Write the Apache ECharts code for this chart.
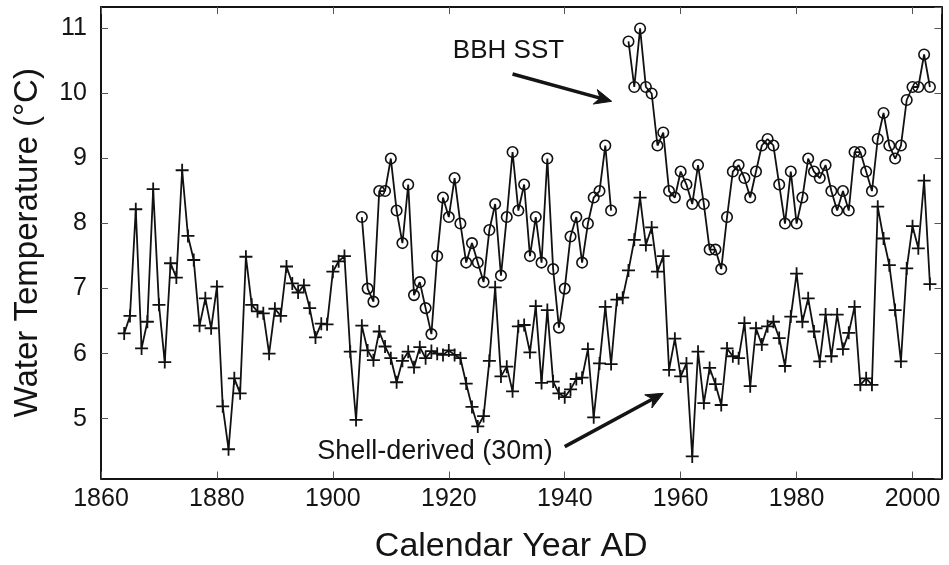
<!DOCTYPE html>
<html><head><meta charset="utf-8">
<script src="https://cdn.jsdelivr.net/npm/echarts@6/dist/echarts.min.js"></script>
<style>html,body{margin:0;padding:0;background:#fff}#c{width:949px;height:565px}</style>
</head><body><div id="c"></div>
<script>
// ---- data ----
const shellStartYear = 1864;
const shellValues = [
  6.31,6.58,8.22,6.08,6.49,8.53,6.75,5.87,7.39,7.17,   // 1864-1873
  8.82,7.81,7.44,6.43,6.85,6.39,7.03,5.19,4.53,5.62,   // 1874-1883
  5.39,7.49,6.75,6.65,6.62,6.00,6.69,6.58,7.34,7.08,   // 1884-1893
  6.94,7.05,6.70,6.25,6.46,6.45,7.26,7.42,7.50,6.03,   // 1894-1903
  4.98,6.43,6.05,5.90,6.34,6.11,5.93,5.56,5.89,6.03,   // 1904-1913
  5.79,6.10,5.93,6.04,6.00,5.98,6.05,5.98,5.93,5.54,   // 1914-1923
  5.18,4.88,5.04,5.89,7.02,5.65,5.80,5.42,6.42,6.44,   // 1924-1933
  6.02,6.73,5.55,6.67,5.57,5.39,5.33,5.45,5.61,5.63,   // 1934-1943
  6.07,5.02,5.85,6.72,5.84,6.83,6.86,7.28,7.75,8.40,   // 1944-1953
  7.67,7.94,7.26,7.50,5.75,6.23,5.65,5.85,4.42,6.03,   // 1954-1963
  5.24,5.78,5.53,5.21,6.08,5.96,5.93,6.47,5.50,6.39,   // 1964-1973
  6.14,6.42,6.49,6.24,5.81,6.57,7.23,6.49,6.85,6.34,   // 1974-1983
  5.88,6.60,5.96,6.60,6.07,6.32,6.72,5.52,5.62,5.52,   // 1984-1993
  8.26,7.77,7.36,6.67,5.88,7.31,7.96,7.62,8.66,7.07    // 1994-2003
];
const bbhStartYear = 1905;
const bbhValues = [
  8.1,7.0,6.8,8.5,8.5,9.0,8.2,7.7,8.6,6.9,    // 1905-1914
  7.1,6.7,6.3,7.5,8.4,8.1,8.7,8.0,7.4,7.7,    // 1915-1924
  7.4,7.1,7.9,8.3,7.2,8.1,9.1,8.2,8.6,7.5,    // 1925-1934
  8.1,7.4,9.0,7.3,6.4,7.0,7.8,8.1,7.4,8.0,    // 1935-1944
  8.4,8.5,9.2,8.2,null,null,10.8,10.1,11.0,10.1, // 1945-1954
  10.0,9.2,9.4,8.5,8.4,8.8,8.6,8.3,8.9,8.3,   // 1955-1964
  7.6,7.6,7.3,8.1,8.8,8.9,8.7,8.4,8.8,9.2,    // 1965-1974
  9.3,9.2,8.6,8.0,8.8,8.0,8.4,9.0,8.8,8.7,    // 1975-1984
  8.9,8.5,8.2,8.5,8.2,9.1,9.1,8.8,8.5,9.3,    // 1985-1994
  9.7,9.2,9.0,9.2,9.9,10.1,10.1,10.6,10.1     // 1995-2003
];
const xTickValues = [1860,1880,1900,1920,1940,1960,1980,2000];
const yTickValues = [5,6,7,8,9,10,11];
const xTitle = 'Calendar Year AD';
const yTitle = 'Water Temperature (°C)';
const bbhLabel = 'BBH SST';
const shellLabel = 'Shell-derived (30m)';

// annotation anchors in data space
const bbhText = [1920.7, 10.66];
const bbhArrow = [[1931.0, 10.30], [1948.1, 9.88]];
const shellText = [1897.3, 4.49];
const shellArrow = [[1940.0, 4.57], [1957.0, 5.39]];

// ---- chart ----
const FONT = "'Liberation Sans', Arial, Helvetica, sans-serif";
const TXT = '#141414';
const shellData = shellValues.map((v,i)=>[shellStartYear+i, v]);
const bbhData = bbhValues.map((v,i)=>[bbhStartYear+i, v===null?'-':v]);

const chart = echarts.init(document.getElementById('c'), null, {renderer:'canvas'});

const boxLine = {show:true, onZero:false, lineStyle:{color:'#141414', width:2}};
const tick = {show:true, inside:true, length:7, lineStyle:{color:'#555', width:1}};

function xAxisCfg(pos, showLabel){
  return {
    type:'value', position:pos, min:1860, max:2005, interval:20,
    axisLine:boxLine, axisTick:tick, splitLine:{show:false},
    axisLabel:{show:showLabel, margin:8, fontSize:25, fontFamily:FONT, color:TXT,
      showMaxLabel:false,
      formatter:(v)=> xTickValues.indexOf(v)>=0 ? String(v) : ''}
  };
}
function yAxisCfg(pos, showLabel){
  return {
    type:'value', position:pos, min:4.08, max:11.33, minInterval:1, maxInterval:1, splitNumber:7,
    axisLine:boxLine, axisTick:tick, splitLine:{show:false},
    axisLabel:{show:showLabel, margin:14, fontSize:25, fontFamily:FONT, color:TXT,
      showMinLabel:false, showMaxLabel:false,
      formatter:(v)=> yTickValues.indexOf(v)>=0 ? String(v) : ''}
  };
}

chart.setOption({
  animation:false,
  backgroundColor:'#fff',
  grid:{left:101, right:7.5, top:7, bottom:86.5, containLabel:false},
  xAxis:[xAxisCfg('bottom', true), xAxisCfg('top', false)],
  yAxis:[yAxisCfg('left', true), yAxisCfg('right', false)],
  series:[
    {
      type:'line', name:'shell', data:shellData, xAxisIndex:0, yAxisIndex:0,
      symbol:'path://M6,0 L6,12 M0,6 L12,6', symbolSize:13, showAllSymbol:true,
      itemStyle:{color:'none', borderColor:'#111', borderWidth:1.8},
      lineStyle:{color:'#111', width:1.8}, silent:true,
      emphasis:{disabled:true}
    },
    {
      type:'line', name:'bbh', data:bbhData, xAxisIndex:0, yAxisIndex:0, connectNulls:false,
      symbol:'circle', symbolSize:10.5, showAllSymbol:true,
      itemStyle:{color:'rgba(0,0,0,0)', borderColor:'#111', borderWidth:1.6},
      lineStyle:{color:'#111', width:1.8}, silent:true,
      emphasis:{disabled:true}
    }
  ]
});

function px(p){ return chart.convertToPixel({seriesIndex:0}, p); }
function arrowGraphics(pts){
  const a = px(pts[0]), b = px(pts[1]);
  const dx = b[0]-a[0], dy = b[1]-a[1], len = Math.hypot(dx,dy);
  const ux = dx/len, uy = dy/len, nx = -uy, ny = ux;
  const L = 17, W = 7.5, N = 12;
  const back = [b[0]-ux*L, b[1]-uy*L];
  const notch = [b[0]-ux*N, b[1]-uy*N];
  return [
    {type:'line', silent:true, shape:{x1:a[0], y1:a[1], x2:notch[0], y2:notch[1]},
      style:{stroke:'#141414', lineWidth:3.6}},
    {type:'polygon', silent:true, shape:{points:[b,[back[0]+nx*W, back[1]+ny*W], notch,[back[0]-nx*W, back[1]-ny*W]]},
      style:{fill:'#141414', stroke:'#141414', lineWidth:1}}
  ];
}

const p1 = px(bbhText), p2 = px(shellText);
const g = chart.getModel().getComponent('grid').coordinateSystem.getRect();

chart.setOption({
  graphic:[].concat(
    arrowGraphics(bbhArrow),
    arrowGraphics(shellArrow),
    [
      {type:'text', x:p1[0], y:p1[1], silent:true, style:{text:bbhLabel, fontSize:26, fontFamily:FONT, fill:TXT, textAlign:'left', textVerticalAlign:'middle'}},
      {type:'text', x:p2[0], y:p2[1], silent:true, style:{text:shellLabel, fontSize:27, fontFamily:FONT, fill:TXT, textAlign:'left', textVerticalAlign:'middle'}},
      {type:'text', x:g.x + g.width/2 - 10, y:547, silent:true, style:{text:xTitle, fontSize:34, fontFamily:FONT, fill:TXT, textAlign:'center', textVerticalAlign:'middle'}},
      {type:'text', x:28, y:g.y + g.height/2, rotation:Math.PI/2, silent:true, style:{text:yTitle, fontSize:33, fontFamily:FONT, fill:TXT, textAlign:'center', textVerticalAlign:'middle'}}
    ])
});
</script>
</body></html>
